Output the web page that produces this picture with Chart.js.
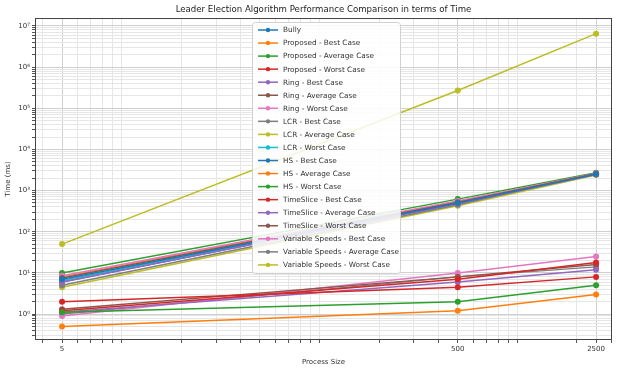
<!DOCTYPE html>
<html>
<head>
<meta charset="utf-8">
<script src="https://cdn.jsdelivr.net/npm/chart.js@4/dist/chart.umd.min.js"></script>
<style>
  html, body { margin: 0; padding: 0; background: #fff; }
  #wrap { width: 622px; height: 369px; }
</style>
</head>
<body>
<div id="wrap"><canvas id="grafico"></canvas></div>
<script>
// Datos (ms)
const processSizes = [5, 500, 2500];
const xTickValues = [5, 500, 2500];
const yTickLabels = ['10⁰', '10¹', '10²', '10³', '10⁴', '10⁵', '10⁶', '10⁷'];

const seriesLabels = [
    'Bully',
    'Proposed - Best Case', 'Proposed - Average Case', 'Proposed - Worst Case',
    'Ring - Best Case', 'Ring - Average Case', 'Ring - Worst Case',
    'LCR - Best Case', 'LCR - Average Case', 'LCR - Worst Case',
    'HS - Best Case', 'HS - Average Case', 'HS - Worst Case',
    'TimeSlice - Best Case', 'TimeSlice - Average Case', 'TimeSlice - Worst Case',
    'Variable Speeds - Best Case', 'Variable Speeds - Average Case', 'Variable Speeds - Worst Case'
];

const bully = [7, 500, 2500];
const proposedBest = [0.5, 1.2, 3];
const proposedAvg = [1.1, 2, 5];
const proposedWorst = [2, 4.5, 8];
const ringBest = [6, 480, 2450];
const ringAvg = [7.5, 520, 2550];
const ringWorst = [8.5, 560, 2600];
const lcrBest = [5, 450, 2650];
const lcrAvg = [4.5, 430, 2400];
const lcrWorst = [6.5, 500, 2550];
const hsBest = [6, 490, 2500];
const hsAvg = [8, 540, 2600];
const hsWorst = [10, 620, 2700];
const tsBest = [1.2, 7, 18];
const tsAvg = [1.1, 6, 12];
const tsWorst = [1.3, 8, 16];
const vsBest = [0.9, 10, 25];
const vsAvg = [1.0, 8, 14];
const vsWorst = [50, 270000, 6500000];

const seriesValues = [
    bully, proposedBest, proposedAvg, proposedWorst,
    ringBest, ringAvg, ringWorst, lcrBest, lcrAvg, lcrWorst,
    hsBest, hsAvg, hsWorst, tsBest, tsAvg, tsWorst, vsBest, vsAvg, vsWorst
];

// Paleta tab10 de matplotlib (se repite)
const paleta = ['#1f77b4', '#ff7f0e', '#2ca02c', '#d62728', '#9467bd',
                '#8c564b', '#e377c2', '#7f7f7f', '#bcbd22', '#17becf'];

const fuente = 'DejaVu Sans';

function ticksLog(min, max, extra) {
    const vals = [];
    for (let d = Math.floor(Math.log10(min)); d <= Math.ceil(Math.log10(max)); d++) {
        for (let m = 1; m <= 9; m++) {
            const v = m * Math.pow(10, d);
            if (v >= min && v <= max) vals.push(v);
        }
    }
    (extra || []).forEach(v => { if (!vals.includes(v)) vals.push(v); });
    vals.sort((a, b) => a - b);
    return vals.map(v => ({ value: v }));
}

function esDecada(v) {
    const l = Math.log10(v);
    return Math.abs(l - Math.round(l)) < 1e-9;
}

// Marco del área y leyenda dentro del gráfico
const marcoYLeyenda = {
    id: 'marcoYLeyenda',
    afterDraw(chart) {
        const ctx = chart.ctx;
        const a = chart.chartArea;
        ctx.save();
        ctx.strokeStyle = '#444';
        ctx.lineWidth = 1;
        ctx.strokeRect(a.left + 0.5, a.top + 0.5, a.right - a.left - 1, a.bottom - a.top - 1);

        const bx = 252, by = 22, bw = 148, bh = 251, paso = 13.05;
        ctx.fillStyle = 'rgba(255,255,255,0.85)';
        ctx.strokeStyle = '#d0d0d0';
        ctx.beginPath();
        ctx.roundRect(bx + 0.5, by + 0.5, bw, bh, 3);
        ctx.fill();
        ctx.stroke();

        ctx.font = '7.3px "' + fuente + '"';
        ctx.textBaseline = 'middle';
        chart.data.datasets.forEach((ds, i) => {
            const y = by + 8 + i * paso;
            ctx.strokeStyle = ds.borderColor;
            ctx.lineWidth = 1.5;
            ctx.beginPath();
            ctx.moveTo(bx + 6, y);
            ctx.lineTo(bx + 26, y);
            ctx.stroke();
            ctx.fillStyle = ds.borderColor;
            ctx.beginPath();
            ctx.arc(bx + 16, y, 2.2, 0, Math.PI * 2);
            ctx.fill();
            ctx.fillStyle = '#333';
            ctx.fillText(ds.label, bx + 31, y + 0.5);
        });
        ctx.restore();
    }
};

function inicializarGrafico() {
    const ctx = document.getElementById('grafico').getContext('2d');
    new Chart(ctx, {
        type: 'line',
        data: {
            datasets: seriesLabels.map((label, i) => ({
                label: label,
                data: processSizes.map((x, j) => ({ x: x, y: seriesValues[i][j] })),
                borderColor: paleta[i % 10],
                backgroundColor: paleta[i % 10],
                borderWidth: 1.5,
                pointRadius: 3,
                pointBorderWidth: 0,
                pointHoverRadius: 3,
                tension: 0
            }))
        },
        options: {
            responsive: true,
            maintainAspectRatio: false,
            animation: false,
            layout: { padding: { left: 0, right: 10, top: 0, bottom: 0 } },
            plugins: {
                legend: { display: false },
                tooltip: { enabled: false },
                title: {
                    display: true,
                    fullSize: false,
                    text: 'Leader Election Algorithm Performance Comparison in terms of Time',
                    color: '#222',
                    font: { family: fuente, size: 8.6, weight: 'normal' },
                    padding: { top: 5, bottom: 2.7 }
                }
            },
            scales: {
                x: {
                    type: 'logarithmic',
                    min: 3.65,
                    max: 3010,
                    afterBuildTicks: (s) => { s.ticks = ticksLog(3.65, 3010, xTickValues); },
                    afterFit: (s) => { s.height = 29; },
                    ticks: {
                        autoSkip: false,
                        maxRotation: 0,
                        color: '#333',
                        font: { family: fuente, size: 7 },
                        padding: 2,
                        callback: (v) => xTickValues.includes(v) ? String(v) : ''
                    },
                    grid: {
                        color: (c) => (c.tick && xTickValues.includes(c.tick.value)) ? '#cfcfcf' : '#e6e6e6',
                        tickLength: 3,
                        tickColor: '#555'
                    },
                    border: { display: false },
                    title: {
                        display: true,
                        text: 'Process Size',
                        color: '#333',
                        font: { family: fuente, size: 7 },
                        padding: { top: 0, bottom: 3 }
                    }
                },
                y: {
                    type: 'logarithmic',
                    min: 0.234,
                    max: 1.56e7,
                    afterBuildTicks: (s) => { s.ticks = ticksLog(0.234, 1.56e7); },
                    afterFit: (s) => { s.width = 35; },
                    ticks: {
                        autoSkip: false,
                        color: '#333',
                        font: { family: fuente, size: 7 },
                        padding: 2,
                        callback: (v) => {
                            if (!esDecada(v)) return '';
                            const e = Math.round(Math.log10(v));
                            return yTickLabels[e] || '';
                        }
                    },
                    grid: {
                        color: (c) => (c.tick && esDecada(c.tick.value)) ? '#cfcfcf' : '#e6e6e6',
                        tickLength: 3,
                        tickColor: '#555'
                    },
                    border: { display: false },
                    title: {
                        display: true,
                        text: 'Time (ms)',
                        color: '#333',
                        font: { family: fuente, size: 7 },
                        padding: { top: 4, bottom: 0 }
                    }
                }
            }
        },
        plugins: [marcoYLeyenda]
    });
}

document.addEventListener('DOMContentLoaded', inicializarGrafico);
</script>
</body>
</html>
